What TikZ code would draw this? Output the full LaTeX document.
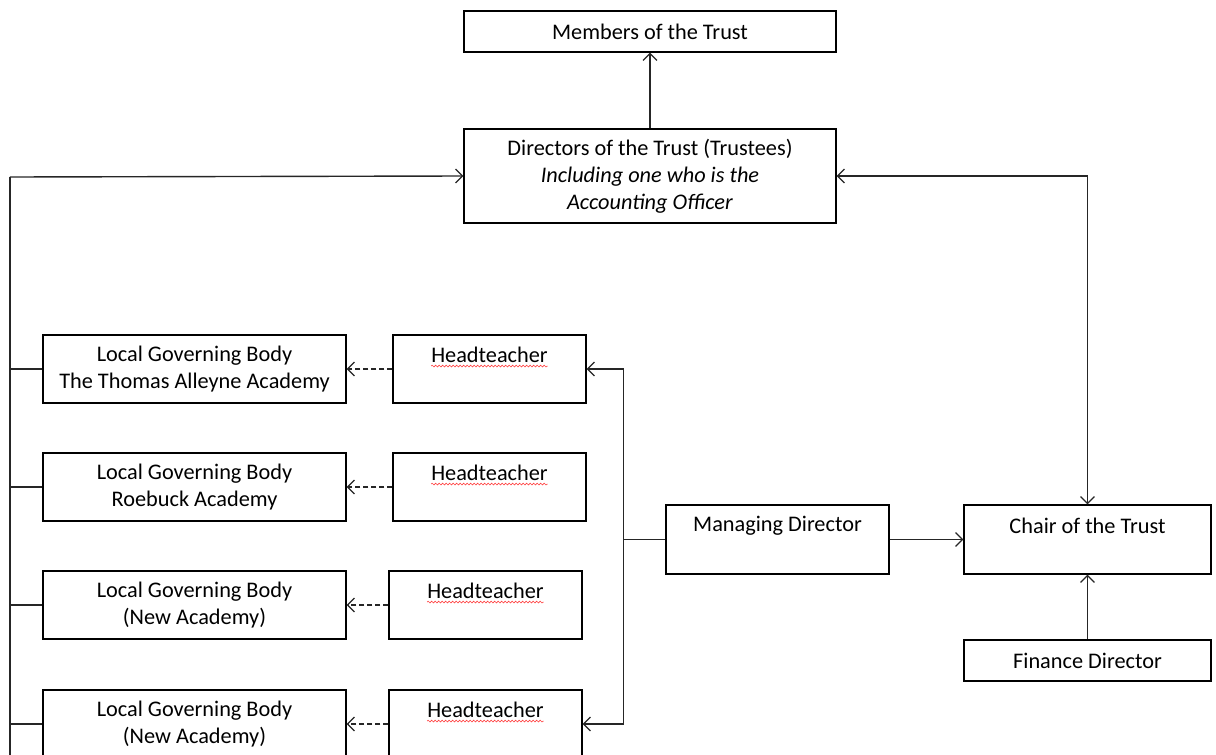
\documentclass[tikz,border=0pt]{standalone}
\usepackage{fontspec}
\setmainfont{Carlito}
\usetikzlibrary{arrows.meta,decorations.pathmorphing}
\begin{document}
\begin{tikzpicture}[x=1pt,y=-1pt,
  box/.style={draw=black,line width=1.2pt,rectangle,inner sep=0pt,align=center,
    font=\fontsize{22.3}{27}\selectfont},
  txt/.style={inner sep=0pt,font=\fontsize{22.3}{27}\selectfont},
  conn/.style={draw=black!85,line width=1.4pt},
  tip/.style={-{Straight Barb[length=7pt,width=14pt,line width=1.2pt]}},
  tips/.style={{Straight Barb[length=7pt,width=14pt,line width=1.2pt]}-{Straight Barb[length=7pt,width=14pt,line width=1.2pt]}},
  dashline/.style={dash pattern=on 5pt off 3pt},
  squig/.style={draw=red!75,line width=0.6pt,decorate,decoration={snake,amplitude=0.9pt,segment length=3.5pt}}
]
\useasboundingbox (0,0) rectangle (1216,755);
\begin{scope}
\clip (0,0) rectangle (1216,755);
% boxes
\node[box,minimum width=372pt,minimum height=41pt] (members) at (650,31.5) {Members of the Trust};
\node[box,minimum width=372pt,minimum height=94pt] (directors) at (650,176)
  {Directors of the Trust (Trustees)\\ \textit{Including one who is the}\\ \textit{Accounting Officer}};
\node[box,minimum width=303pt,minimum height=68pt] (lgb1) at (194.5,369) {Local Governing Body\\The Thomas Alleyne Academy};
\node[box,minimum width=303pt,minimum height=68pt] (lgb2) at (194.5,487) {Local Governing Body\\Roebuck Academy};
\node[box,minimum width=303pt,minimum height=68pt] (lgb3) at (194.5,605) {Local Governing Body\\(New Academy)};
\node[box,minimum width=303pt,minimum height=68pt] (lgb4) at (194.5,724) {Local Governing Body\\(New Academy)};
\node[box,minimum width=193pt,minimum height=68pt] (ht1) at (489.5,369) {};
\node[box,minimum width=193pt,minimum height=68pt] (ht2) at (489.5,487) {};
\node[box,minimum width=193pt,minimum height=68pt] (ht3) at (485.5,605) {};
\node[box,minimum width=193pt,minimum height=68pt] (ht4) at (485.5,724) {};
\node[box,minimum width=223pt,minimum height=69pt] (md) at (777.5,539.5) {};
\node[box,minimum width=247pt,minimum height=69pt] (chair) at (1087.5,539.5) {};
\node[box,minimum width=247pt,minimum height=41pt] (fin) at (1087.5,660.5) {Finance Director};
% top-aligned texts
\foreach \n in {ht1,ht2,ht3,ht4}{
  \node[txt] (\n t) at ([yshift=-20pt]\n.north) {Headteacher};
  \draw[squig] ([yshift=-4pt]\n t.base west) -- ([yshift=-4pt]\n t.base east);
}
\node[txt] (mdt) at ([yshift=-21pt]md.north) {Managing Director};
\node[txt] (chairt) at ([yshift=-21pt]chair.north) {Chair of the Trust};
% connectors
\coordinate (spinetop) at (10,177);
\coordinate (spinebot) at (10,770);
\draw[conn] (spinetop) -- (spinebot);
\draw[conn,tip] (spinetop) -- (directors.west);
\foreach \n in {lgb1,lgb2,lgb3,lgb4}{
  \draw[conn] (\n.west -| spinetop) -- (\n.west);
}
\draw[conn,tip] (directors.north) -- (members.south);
\draw[conn,tips] (chair.north) |- (directors.east);
\foreach \i in {1,2,3,4}{
  \draw[conn,dashline,tip] (ht\i.west) -- (lgb\i.east);
}
\draw[conn,tip] (md.east) -- (chair.west);
\draw[conn,tip] (md.west) -- ++(-42,0) |- (ht1.east);
\draw[conn,tip] (md.west) -- ++(-42,0) |- (ht4.east);
\draw[conn,tip] (fin.north) -- (chair.south);
\end{scope}
\end{tikzpicture}
\end{document}
